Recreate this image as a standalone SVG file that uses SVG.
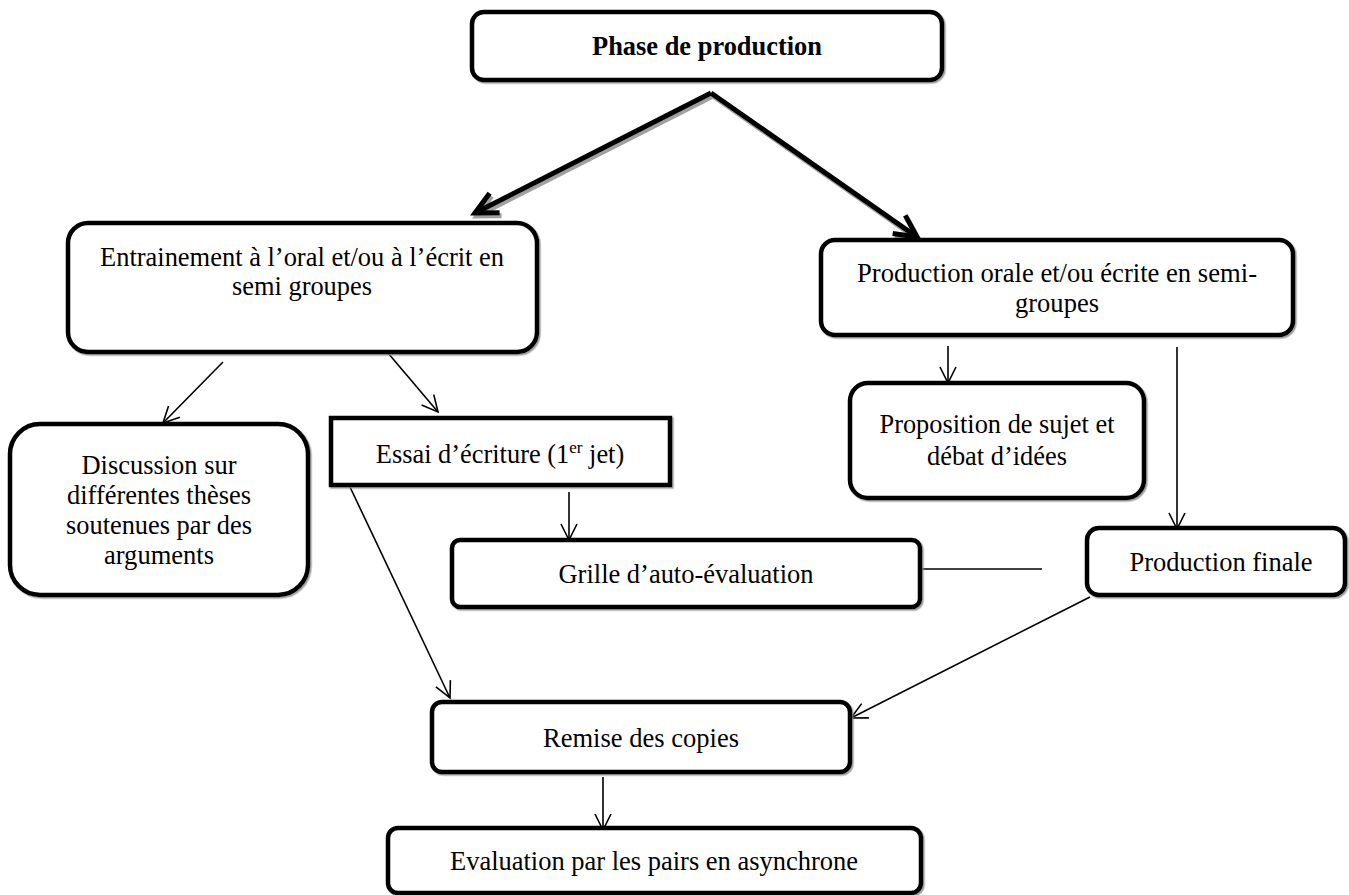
<svg xmlns="http://www.w3.org/2000/svg" width="1349" height="895" viewBox="0 0 1349 895">
<defs>
<style>
.box{fill:#fff;stroke:#000;stroke-width:4.5;filter:url(#sh)}
.t{font-family:"Liberation Serif","Times New Roman",Tinos,Times,"DejaVu Serif",serif;font-size:26.4px;fill:#000;text-anchor:middle}
.b{font-weight:bold}
.thin{stroke:#000;stroke-width:1.6;fill:none}
.thick{stroke:#000;stroke-width:5;fill:none}
.shadow{stroke:#a0a0a0;stroke-width:5;fill:none}
</style>
<filter id="sh" x="-5%" y="-5%" width="110%" height="115%">
<feDropShadow dx="1.5" dy="1.5" stdDeviation="0.6" flood-color="#888" flood-opacity="0.8"/>
</filter>
<marker id="ah" markerUnits="userSpaceOnUse" markerWidth="40" markerHeight="40" viewBox="-20 -20 40 40" refX="0" refY="0" orient="auto">
<path d="M -16 -8 L 0 0 L -16 8" fill="none" stroke="#000" stroke-width="1.6"/>
</marker>
<marker id="ahBig" markerUnits="userSpaceOnUse" markerWidth="60" markerHeight="60" viewBox="-30 -30 60 60" refX="0" refY="0" orient="auto">
<path d="M -22 -11 L 0 0 L -22 11" fill="none" stroke="#000" stroke-width="5" stroke-linejoin="miter"/>
</marker>
<marker id="ahShadow" markerUnits="userSpaceOnUse" markerWidth="60" markerHeight="60" viewBox="-30 -30 60 60" refX="0" refY="0" orient="auto">
<path d="M -22 -11 L 0 0 L -22 11" fill="none" stroke="#a0a0a0" stroke-width="5"/>
</marker>
</defs>
<rect width="1349" height="895" fill="#fff"/>

<g id="connectors">
<line class="shadow" x1="713" y1="96" x2="477" y2="216" marker-end="url(#ahShadow)"/>
<line class="shadow" x1="713" y1="96" x2="919" y2="240" marker-end="url(#ahShadow)"/>
<line class="thick" x1="711" y1="93" x2="475" y2="213" marker-end="url(#ahBig)"/>
<line class="thick" x1="711" y1="93" x2="917" y2="237" marker-end="url(#ahBig)"/>
<line class="thin" x1="223" y1="362" x2="163" y2="423" marker-end="url(#ah)"/>
<line class="thin" x1="388" y1="353" x2="438" y2="412" marker-end="url(#ah)"/>
<line class="thin" x1="948" y1="346" x2="948" y2="383" marker-end="url(#ah)"/>
<line class="thin" x1="1177" y1="347" x2="1177" y2="529" marker-end="url(#ah)"/>
<line class="thin" x1="569" y1="492" x2="569" y2="540" marker-end="url(#ah)"/>
<line class="thin" x1="921" y1="569" x2="1042" y2="569"/>
<line class="thin" x1="350" y1="487" x2="450" y2="698" marker-end="url(#ah)"/>
<line class="thin" x1="1090" y1="597" x2="851" y2="718" marker-end="url(#ah)"/>
<line class="thin" x1="603" y1="777" x2="603" y2="830" marker-end="url(#ah)"/>
</g>

<g id="phase">
<rect class="box" x="472" y="12" width="470" height="68" rx="12"/>
<text class="t b" x="707" y="55" textLength="230" lengthAdjust="spacingAndGlyphs">Phase de production</text>
</g>

<g id="entrainement">
<rect class="box" x="68" y="223" width="469" height="129" rx="20"/>
<text class="t" x="302" y="266" textLength="404" lengthAdjust="spacingAndGlyphs">Entrainement à l’oral et/ou à l’écrit en</text>
<text class="t" x="302" y="295" textLength="140" lengthAdjust="spacingAndGlyphs">semi groupes</text>
</g>

<g id="production-orale">
<rect class="box" x="821" y="240" width="472" height="95" rx="14"/>
<text class="t" x="1057" y="282" textLength="400" lengthAdjust="spacingAndGlyphs">Production orale et/ou écrite en semi-</text>
<text class="t" x="1057" y="312" textLength="84" lengthAdjust="spacingAndGlyphs">groupes</text>
</g>

<g id="discussion">
<rect class="box" x="10" y="424" width="298" height="171" rx="30"/>
<text class="t" x="159" y="474" textLength="155" lengthAdjust="spacingAndGlyphs">Discussion sur</text>
<text class="t" x="159" y="504" textLength="184" lengthAdjust="spacingAndGlyphs">différentes thèses</text>
<text class="t" x="159" y="534" textLength="186" lengthAdjust="spacingAndGlyphs">soutenues par des</text>
<text class="t" x="159" y="564" textLength="110" lengthAdjust="spacingAndGlyphs">arguments</text>
</g>

<g id="essai">
<rect class="box" x="331" y="418" width="339" height="67"/>
<text class="t" x="500" y="463">Essai d’écriture (1<tspan font-size="17" dy="-10">er</tspan><tspan dy="10"> jet)</tspan></text>
</g>

<g id="proposition">
<rect class="box" x="850" y="383" width="294" height="115" rx="18"/>
<text class="t" x="997" y="433" textLength="235" lengthAdjust="spacingAndGlyphs">Proposition de sujet et</text>
<text class="t" x="997" y="465" textLength="140" lengthAdjust="spacingAndGlyphs">débat d’idées</text>
</g>

<g id="grille">
<rect class="box" x="452" y="540" width="468" height="67" rx="8"/>
<text class="t" x="686" y="583" textLength="255" lengthAdjust="spacingAndGlyphs">Grille d’auto-évaluation</text>
</g>

<g id="production-finale">
<rect class="box" x="1087" y="528" width="258" height="67" rx="12"/>
<text class="t" x="1221" y="571" textLength="183" lengthAdjust="spacingAndGlyphs">Production finale</text>
</g>

<g id="remise">
<rect class="box" x="432" y="702" width="418" height="70" rx="10"/>
<text class="t" x="641" y="747" textLength="196" lengthAdjust="spacingAndGlyphs">Remise des copies</text>
</g>

<g id="evaluation">
<rect class="box" x="388" y="828" width="533" height="65" rx="10"/>
<text class="t" x="654" y="870" textLength="408" lengthAdjust="spacingAndGlyphs">Evaluation par les pairs en asynchrone</text>
</g>
</svg>
